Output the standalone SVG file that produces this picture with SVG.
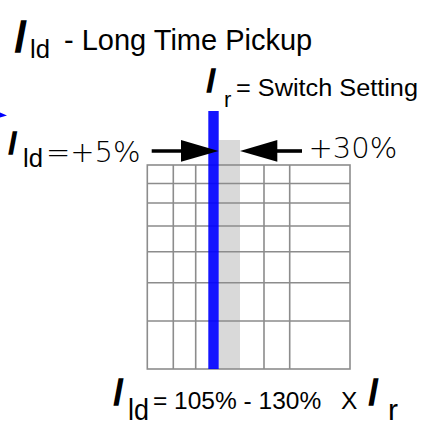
<svg xmlns="http://www.w3.org/2000/svg" width="424" height="425" viewBox="0 0 424 425">
<style>
.t{font-family:"Liberation Sans",Arial,sans-serif;fill:#000}
.I{font-family:"Liberation Sans",Arial,sans-serif;font-style:italic;fill:#000;stroke:#000;stroke-width:1.6}
.s{font-family:"DejaVu Sans","Liberation Sans",sans-serif;font-weight:200;fill:#000}
.g{stroke:#8c8c8c;stroke-width:1.6;fill:none}
</style>
<rect width="424" height="425" fill="#fff"/>
<g id="title">
<text class="I" x="14" y="52" font-size="44">I</text>
<text class="t" x="30" y="58" font-size="26" textLength="20" lengthAdjust="spacingAndGlyphs">ld</text>
<text class="t" x="64" y="50" font-size="29">- Long Time Pickup</text>
</g>
<g id="switch-setting">
<text class="I" x="206" y="92" font-size="34">I</text>
<text class="t" x="224" y="107" font-size="22">r</text>
<text class="t" x="236" y="95.5" font-size="23" textLength="182" lengthAdjust="spacingAndGlyphs">= Switch Setting</text>
</g>
<polygon id="blue-mark" points="0,112.5 7,115.5 0,117.5" fill="#0000ff"/>
<g id="bars">
<rect x="218.7" y="140" width="21.3" height="229" fill="#d9d9d9"/>
</g>
<g id="grid" class="g">
<rect x="147.3" y="165" width="202.7" height="204"/>
<path d="M173.3 165V369M195.7 165V369M264 165V369M289.7 165V369M147.3 183.5H350M147.3 203H350M147.3 226H350M147.3 251.7H350M147.3 282.7H350M147.3 321H350"/>
</g>
<rect id="switch-bar" x="208.3" y="111" width="10.4" height="258" fill="#0000ff" opacity="0.92"/>
<g id="connectors">
<line x1="151.7" y1="151" x2="185" y2="151" stroke="#000" stroke-width="3.6"/>
<polygon points="181,140 218.5,151 181,161.7" fill="#000"/>
<line x1="274" y1="151" x2="302" y2="151" stroke="#000" stroke-width="3.6"/>
<polygon points="277.3,140 240,151 277.3,161.7" fill="#000"/>
</g>
<g id="low-label">
<text class="I" x="8" y="153.5" font-size="31">I</text>
<text class="t" x="23" y="166.5" font-size="26" textLength="20" lengthAdjust="spacingAndGlyphs">ld</text>
<text class="s" x="46" y="161.7" font-size="29">=+5%</text>
</g>
<g id="high-label">
<text class="s" x="308.5" y="158.3" font-size="29">+30%</text>
</g>
<g id="formula">
<text class="I" x="113" y="405" font-size="36">I</text>
<text class="t" x="128" y="420" font-size="30" textLength="21" lengthAdjust="spacingAndGlyphs">ld</text>
<text class="t" x="153" y="409.3" font-size="24.5">= 105% - 130%</text>
<text class="t" x="341" y="409.3" font-size="24.5">X</text>
<text class="I" x="368" y="405" font-size="36">I</text>
<text class="t" x="388" y="420" font-size="30">r</text>
</g>
</svg>
